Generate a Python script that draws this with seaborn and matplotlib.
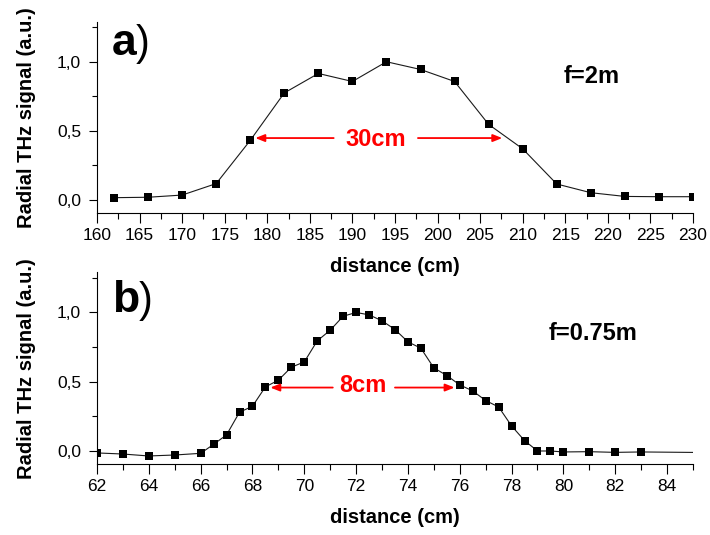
import numpy as np
import pandas as pd
import matplotlib
matplotlib.use("Agg")
import matplotlib.pyplot as plt
from matplotlib.ticker import MultipleLocator, FuncFormatter
import seaborn as sns

# ==========================================
# DATA
# ==========================================
dist_a = [162, 166, 170, 174, 178, 182, 186, 190, 194, 198, 202, 206, 210,
          214, 218, 222, 226, 230]
sig_a = [0.015, 0.018, 0.034, 0.117, 0.43, 0.774, 0.915, 0.857, 1.0, 0.944,
         0.857, 0.546, 0.369, 0.114, 0.051, 0.024, 0.022, 0.022]

dist_b = [62, 63, 64, 65, 66, 66.5, 67, 67.5, 68, 68.5, 69, 69.5, 70, 70.5,
          71, 71.5, 72, 72.5, 73, 73.5, 74, 74.5, 75, 75.5, 76, 76.5, 77,
          77.5, 78, 78.5, 79, 79.5, 80, 81, 82, 83, 86]
sig_b = [-0.014, -0.022, -0.036, -0.029, -0.017, 0.048, 0.116, 0.28, 0.323,
         0.463, 0.511, 0.605, 0.643, 0.795, 0.872, 0.973, 1.0, 0.983, 0.94,
         0.877, 0.788, 0.742, 0.60, 0.545, 0.477, 0.434, 0.364, 0.318, 0.181,
         0.075, 0.0, 0.0, -0.007, -0.005, -0.01, -0.007, -0.012]

# annotations: (left tip, left start, right start, right tip, y)
fwhm_a = (178.6, 187.8, 197.7, 207.6, 0.447)
fwhm_b = (68.69, 71.1, 73.5, 75.8, 0.458)

# ==========================================
# STYLE
# ==========================================
sns.set_style("ticks")
plt.rcParams['font.family'] = ['Liberation Sans', 'DejaVu Sans']
plt.rcParams['text.color'] = 'black'
plt.rcParams['axes.labelcolor'] = 'black'
plt.rcParams['axes.edgecolor'] = 'black'
plt.rcParams['axes.linewidth'] = 0.8
for k in ['xtick', 'ytick']:
    plt.rcParams[f'{k}.major.width'] = 0.8
    plt.rcParams[f'{k}.minor.width'] = 0.8
    plt.rcParams[f'{k}.color'] = 'black'
    plt.rcParams[f'{k}.labelcolor'] = 'black'

comma_fmt = FuncFormatter(lambda v, p: f"{v:.1f}".replace('.', ','))

fig = plt.figure(figsize=(7.1, 5.35), dpi=100)
ax_a = fig.add_axes([0.1366, 0.6024, 0.8394, 0.357])
ax_b = fig.add_axes([0.1366, 0.1327, 0.8394, 0.3583])


def draw_panel(ax, xs, ys, xlim, major, minor, letter, letter_xy, paren_x,
               fwhm, width_txt, width_xy, f_txt, f_xy):
    ax.patch.set_alpha(0)
    df = pd.DataFrame({'distance': xs, 'signal': ys})
    sns.lineplot(data=df, x='distance', y='signal', ax=ax, color='#1a1a1a',
                 linewidth=0.8, marker='s', markersize=6.3,
                 markerfacecolor='black', markeredgewidth=0)
    ax.set_xlim(*xlim)
    ax.set_ylim(-0.094, 1.29)
    sns.despine(ax=ax)

    ax.xaxis.set_major_locator(MultipleLocator(major))
    ax.xaxis.set_minor_locator(MultipleLocator(minor))
    ax.yaxis.set_major_locator(MultipleLocator(0.5))
    ax.yaxis.set_minor_locator(MultipleLocator(0.25))
    ax.yaxis.set_major_formatter(comma_fmt)
    ax.tick_params(axis='x', which='major', length=7, pad=4, labelsize=12.5)
    ax.tick_params(axis='x', which='minor', length=4)
    ax.tick_params(axis='y', which='major', length=6, pad=5.5, labelsize=12.5)
    ax.tick_params(axis='y', which='minor', length=3.5)

    ax.set_xlabel("distance (cm)", fontsize=14.5, fontweight='bold')
    ax.xaxis.set_label_coords(0.5, -0.232)
    ax.set_ylabel("Radial THz signal (a.u.)", fontsize=14.5, fontweight='bold')
    ax.yaxis.set_label_coords(-0.103, 0.5)

    # panel letter
    ax.text(letter_xy[0], letter_xy[1], letter, fontsize=32,
            fontweight='bold', va='baseline', ha='left')
    ax.text(paren_x, letter_xy[1], ")", fontsize=30, fontweight='normal',
            va='baseline', ha='left')

    # FWHM arrows
    lt, ls, rs, rt, yy = fwhm
    arr = dict(arrowstyle='-|>,head_length=0.55,head_width=0.22',
               color='red', lw=1.3, shrinkA=0, shrinkB=0)
    ax.annotate("", xy=(lt, yy), xytext=(ls, yy), arrowprops=arr)
    ax.annotate("", xy=(rt, yy), xytext=(rs, yy), arrowprops=arr)
    ax.text(width_xy[0], width_xy[1], width_txt, color='red', fontsize=17,
            fontweight='bold', ha='center', va='baseline')

    ax.text(f_xy[0], f_xy[1], f_txt, fontsize=17, fontweight='bold',
            ha='left', va='baseline')


draw_panel(ax_a, dist_a, sig_a, (160, 230), 5, 2.5, "a", (161.7, 1.05), 164.6,
           fwhm_a, "30cm", (192.7, 0.39), "f=2m", (214.8, 0.847))
draw_panel(ax_b, dist_b, sig_b, (62, 85), 2, 1, "b", (62.6, 1.0), 63.6,
           fwhm_b, "8cm", (72.25, 0.427), "f=0.75m", (79.42, 0.80))

plt.savefig('out.png', dpi=100, facecolor='white')
plt.close()
print("saved out.png")
